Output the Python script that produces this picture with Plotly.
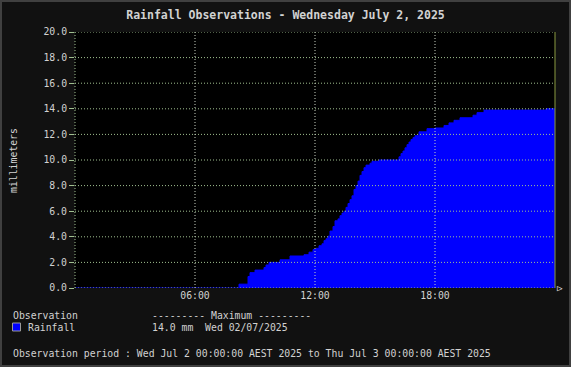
import plotly.graph_objects as go

# ---------------- data ----------------
obs_times = ["00:00", "08:12", "08:39", "08:45", "09:00", "09:27", "09:33", "09:42",
             "10:15", "10:45", "11:27", "11:42", "11:54", "12:03", "12:12", "12:21",
             "12:27", "12:33", "12:39", "12:45", "12:54", "13:00", "13:09", "13:15",
             "13:21", "13:27", "13:33", "13:39", "13:45", "13:51", "13:57", "14:03",
             "14:09", "14:15", "14:21", "14:27", "14:33", "14:45", "14:51", "15:12",
             "16:12", "16:18", "16:24", "16:30", "16:36", "16:42", "16:48", "16:54",
             "17:00", "17:12", "17:36", "18:00", "18:27", "18:42", "18:57", "19:15",
             "19:54", "20:06", "20:27", "23:33"]
rain_mm = [0.0, 0.3, 0.9, 1.2, 1.4, 1.6, 1.8, 2.0,
           2.2, 2.5, 2.6, 2.8, 3.0, 3.1, 3.3, 3.45,
           3.7, 3.85, 4.05, 4.45, 4.8, 5.25, 5.4, 5.65,
           5.85, 6.0, 6.3, 6.6, 6.9, 7.2, 7.7, 8.0,
           8.35, 8.8, 9.1, 9.4, 9.6, 9.75, 9.9, 10.0,
           10.25, 10.5, 10.7, 10.95, 11.2, 11.4, 11.6, 11.75,
           11.9, 12.2, 12.45, 12.5, 12.7, 12.9, 13.1, 13.3,
           13.5, 13.7, 13.9, 14.0]
end_time = "2025-07-03 00:00"
day = "2025-07-02"

y_ticks = [0, 2, 4, 6, 8, 10, 12, 14, 16, 18, 20]
x_tick_vals = ["2025-07-02 06:00", "2025-07-02 12:00", "2025-07-02 18:00"]
x_tick_text = ["06:00", "12:00", "18:00"]

title_text = "Rainfall Observations - Wednesday July 2, 2025"
y_title = "millimeters"
legend_header = "Observation"
max_header = "--------- Maximum ---------"
series_name = "Rainfall"
max_text = "14.0 mm  Wed 02/07/2025"
period_text = "Observation period : Wed Jul 2 00:00:00 AEST 2025 to Thu Jul 3 00:00:00 AEST 2025"

# ---------------- layout helpers ----------------
W, H = 571, 367
L, R, T, B = 75, 555, 32, 288


def px(x):
    return (x - L) / (R - L)


def py(y):
    return (B - y) / (B - T)


FONT = "DejaVu Sans Mono"
TXT = "#d2d2d2"
GRID_H = "#a0c090"
GRID_V = "#c8d0c0"

x_vals = [f"{day} {t}" for t in obs_times] + [end_time]
y_vals = rain_mm + [rain_mm[-1]]

fig = go.Figure()
fig.add_trace(go.Scatter(
    x=x_vals, y=y_vals, mode="lines", line=dict(shape="hv", color="#0000ff", width=1),
    fill="tozeroy", fillcolor="#0000ff", name=series_name, showlegend=False,
    hoverinfo="skip"))

shapes = []
for v in y_ticks:
    shapes.append(dict(type="line", xref="paper", yref="y", x0=0, x1=1, y0=v, y1=v,
                       line=dict(color=GRID_H, width=1, dash="1px,2px"), layer="above"))
for v in x_tick_vals:
    shapes.append(dict(type="line", xref="x", yref="paper", x0=v, x1=v, y0=0, y1=1,
                       line=dict(color=GRID_V, width=1, dash="1px,2px"), layer="above"))
shapes.append(dict(type="line", xref="paper", yref="paper", x0=0, x1=0, y0=0, y1=1,
                   line=dict(color=GRID_H, width=1, dash="1px,2px"), layer="above"))
shapes.append(dict(type="line", xref="paper", yref="paper", x0=1, x1=1, y0=0, y1=1,
                   line=dict(color="#8a9a40", width=1), layer="above"))
shapes.append(dict(type="rect", xref="paper", yref="paper", x0=px(1), x1=px(570),
                   y0=py(366), y1=py(1), line=dict(color="#404040", width=2), layer="above"))
shapes.append(dict(type="rect", xref="paper", yref="paper", x0=px(12.5), x1=px(20.5),
                   y0=py(331), y1=py(323), fillcolor="#0000ff",
                   line=dict(color="#9a9a9a", width=1), layer="above"))

annotations = [
    dict(text=y_title, xref="paper", yref="paper", x=px(13), y=py(160), textangle=-90,
         showarrow=False, xanchor="center", yanchor="middle",
         font=dict(family=FONT, size=9.8, color=TXT)),
    dict(text="\u25b7", xref="paper", yref="paper", x=px(560), y=py(288),
         showarrow=False, xanchor="center", yanchor="middle",
         font=dict(family=FONT, size=9, color="#ffffff")),
    dict(text=legend_header, xref="paper", yref="paper", x=px(11), y=py(315),
         showarrow=False, xanchor="left", yanchor="middle",
         font=dict(family=FONT, size=9.8, color=TXT)),
    dict(text=max_header, xref="paper", yref="paper", x=px(150), y=py(315),
         showarrow=False, xanchor="left", yanchor="middle",
         font=dict(family=FONT, size=9.8, color=TXT)),
    dict(text=series_name, xref="paper", yref="paper", x=px(26), y=py(327),
         showarrow=False, xanchor="left", yanchor="middle",
         font=dict(family=FONT, size=9.8, color=TXT)),
    dict(text=max_text, xref="paper", yref="paper", x=px(150), y=py(327),
         showarrow=False, xanchor="left", yanchor="middle",
         font=dict(family=FONT, size=9.8, color=TXT)),
    dict(text=period_text, xref="paper", yref="paper", x=px(11), y=py(353),
         showarrow=False, xanchor="left", yanchor="middle",
         font=dict(family=FONT, size=9.8, color=TXT)),
]

fig.update_layout(
    width=W, height=H,
    margin=dict(l=L, r=W - R, t=T, b=H - B, pad=0),
    paper_bgcolor="#111111", plot_bgcolor="#000000",
    title=dict(text="<b>" + title_text + "</b>", x=0.5, xanchor="center", y=1 - 15 / H,
               yanchor="middle", font=dict(family=FONT, size=11.5, color=TXT)),
    xaxis=dict(type="date", range=[f"{day} 00:00", end_time], tickmode="array",
               tickvals=x_tick_vals, ticktext=x_tick_text, showgrid=False, zeroline=False,
               showline=False, ticks="", tickfont=dict(family=FONT, size=9.8, color=TXT),
               fixedrange=True),
    yaxis=dict(range=[0, 20], tickmode="array", tickvals=y_ticks,
               ticktext=[f"{v:.1f}" for v in y_ticks], showgrid=False, zeroline=False,
               showline=False, ticks="outside", ticklen=5, tickcolor=GRID_H,
               tickfont=dict(family=FONT, size=9.8, color=TXT), fixedrange=True),
    shapes=shapes, annotations=annotations, showlegend=False,
)

fig.write_html("out.html", config={"displayModeBar": False},
               post_script="document.body.style.margin='0';document.body.style.background='#111111';")
